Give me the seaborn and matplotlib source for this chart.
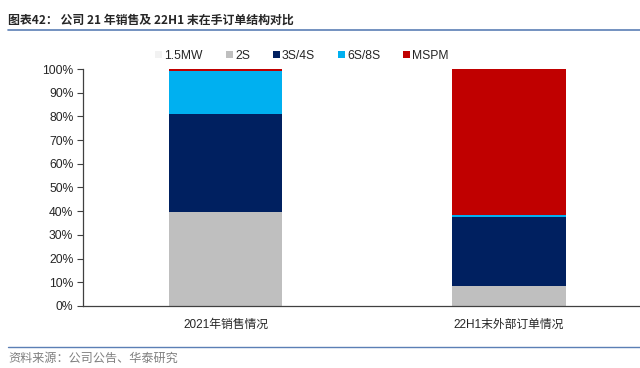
import numpy as np
import pandas as pd
import seaborn as sns
import matplotlib
matplotlib.use("Agg")
import matplotlib.pyplot as plt
from matplotlib.patches import Patch
from matplotlib.ticker import PercentFormatter

# ---- data ----
categories = ["2021年销售情况", "22H1末外部订单情况"]
series_names = ["1.5MW", "2S", "3S/4S", "6S/8S", "MSPM"]
share_15mw = [0.0, 0.0]
share_2s = [39.5, 8.4]
share_3s4s = [41.5, 29.0]
share_6s8s = [18.3, 0.9]
share_mspm = [0.7, 61.7]
colors = ["#F2F2F2", "#BFBFBF", "#002060", "#00B0F0", "#C00000"]

sns.set_theme(style="white")
plt.rcParams["font.family"] = ["Liberation Sans", "Noto Sans CJK SC"]

df = pd.DataFrame({
    "cat": categories,
    "1.5MW": share_15mw,
    "2S": share_2s,
    "3S/4S": share_3s4s,
    "6S/8S": share_6s8s,
    "MSPM": share_mspm,
})
# running totals so each layer can be drawn over the one above it
cum = df[series_names].cumsum(axis=1)
cum["cat"] = df["cat"]

fig = plt.figure(figsize=(6.4, 3.68), dpi=100)
ax = fig.add_axes([0.1297, 0.1685, 0.8703, 0.644])

for name, col in reversed(list(zip(series_names, colors))):
    sns.barplot(data=cum, x="cat", y=name, order=categories, color=col,
                width=0.4, saturation=1, ax=ax, linewidth=0)

ax.set_ylim(0, 100)
ax.set_xlim(-0.503, 1.462)
ax.set_yticks(np.arange(0, 101, 10))
ax.yaxis.set_major_formatter(PercentFormatter(decimals=0))
ax.set_xlabel("")
ax.set_ylabel("")
for side in ["top", "right"]:
    ax.spines[side].set_visible(False)
for side in ["left", "bottom"]:
    ax.spines[side].set_color("#404040")
    ax.spines[side].set_linewidth(0.9)
ax.tick_params(axis="y", which="both", left=True, length=4, width=0.8,
               color="#404040", labelsize=8.7, pad=3)
ax.tick_params(axis="x", bottom=False, labelsize=8.5, pad=3)

handles = [Patch(facecolor=c, edgecolor="none", label=n)
           for n, c in zip(series_names, colors)]
fig.legend(handles=handles, loc="center", bbox_to_anchor=(0.472, 0.848),
           ncol=5, frameon=False, fontsize=8.7, handlelength=0.55,
           handleheight=0.55, handletextpad=0.2, columnspacing=1.9)

# title and footer
fig.text(0.0125, 0.945, "图表42： 公司 21 年销售及 22H1 末在手订单结构对比",
         fontsize=8.6, fontweight="bold", va="center", ha="left",
         family=["Noto Sans CJK SC", "Liberation Sans"])
fig.add_artist(plt.Line2D([0.0125, 1.0], [0.918, 0.918], color="#5B7FB5",
                          linewidth=1.2, transform=fig.transFigure))
fig.add_artist(plt.Line2D([0.0125, 1.0], [0.057, 0.057], color="#5B7FB5",
                          linewidth=1.0, transform=fig.transFigure))
fig.text(0.0125, 0.027, "资料来源：公司公告、华泰研究", fontsize=8.7,
         color="#7F7F7F", va="center", ha="left",
         family=["Noto Sans CJK SC", "Liberation Sans"])

fig.savefig("out.png", dpi=100)
